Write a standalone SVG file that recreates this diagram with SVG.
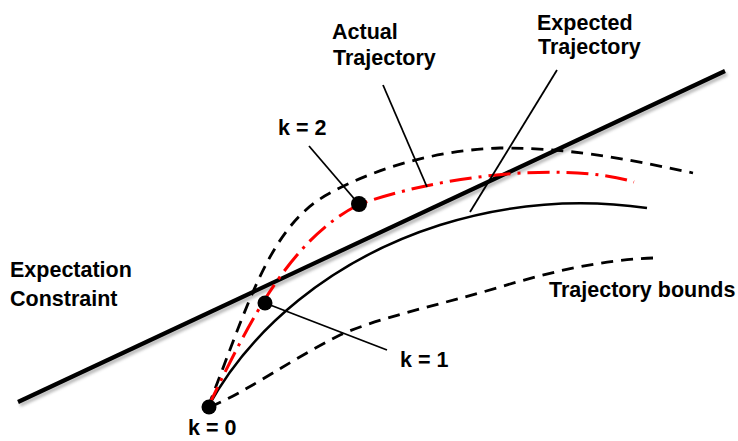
<svg xmlns="http://www.w3.org/2000/svg" width="738" height="441" viewBox="0 0 738 441">
<style>
.t{font-family:"Liberation Sans",Arial,sans-serif;font-weight:bold;font-size:21.5px;fill:#000}
.bound{fill:none;stroke:#000;stroke-width:2.8;stroke-dasharray:12 8}
.actual{fill:none;stroke:#f00;stroke-width:3;stroke-dasharray:22 7 3 7}
.expected{fill:none;stroke:#000;stroke-width:2.5}
.leader{stroke:#000;stroke-width:1.8}
.dot{fill:#000}
</style>
<defs>
<filter id="sh" x="-5%" y="-20%" width="110%" height="140%"><feGaussianBlur stdDeviation="1.5"/></filter>
</defs>
<rect width="738" height="441" fill="#fff"/>
<g id="constraint">
<line x1="20" y1="405" x2="727" y2="74" stroke="#999" stroke-width="4" filter="url(#sh)" opacity="0.7"/>
<line x1="18" y1="402" x2="725" y2="71" stroke="#000" stroke-width="4.2"/>
</g>
<g id="bounds">
<path class="bound" d="M208,407 C250,300 270,225 330,193 C380,166 440,150 500,148 C580,148 640,162 693,173"/>
<path class="bound" d="M210,407 C250,390 290,360 340,335 C380,317 440,305 500,287 C550,272 600,260 653,258"/>
</g>
<g id="expected-trajectory">
<path class="expected" d="M208,407 C250,330 330,260 440,225 C520,200 590,200 647,208"/>
</g>
<g id="actual-trajectory">
<path class="actual" d="M208,407 C250,320 290,240 358,205 C430,178 560,160 634,182"/>
</g>
<g id="connectors">
<line class="leader" x1="309" y1="146" x2="357" y2="202"/>
<line class="leader" x1="383" y1="85" x2="427" y2="187"/>
<line class="leader" x1="557" y1="70" x2="470" y2="212"/>
<line class="leader" x1="265" y1="303" x2="387" y2="350"/>
</g>
<g id="k0"><circle class="dot" cx="209" cy="407" r="7.5"/><text class="t" x="188" y="435" font-size="21px">k = 0</text></g>
<g id="k1"><circle class="dot" cx="265" cy="303" r="7.5"/><text class="t" x="400" y="367">k = 1</text></g>
<g id="k2"><circle class="dot" cx="359" cy="204" r="8"/><text class="t" x="278" y="135">k = 2</text></g>
<g id="label-actual"><text class="t" x="332" y="39">Actual</text><text class="t" x="333" y="65">Trajectory</text></g>
<g id="label-expected"><text class="t" x="537" y="30">Expected</text><text class="t" x="538" y="54">Trajectory</text></g>
<g id="label-constraint"><text class="t" x="10" y="277">Expectation</text><text class="t" x="10" y="306">Constraint</text></g>
<g id="label-bounds"><text class="t" x="549" y="297">Trajectory bounds</text></g>
</svg>
